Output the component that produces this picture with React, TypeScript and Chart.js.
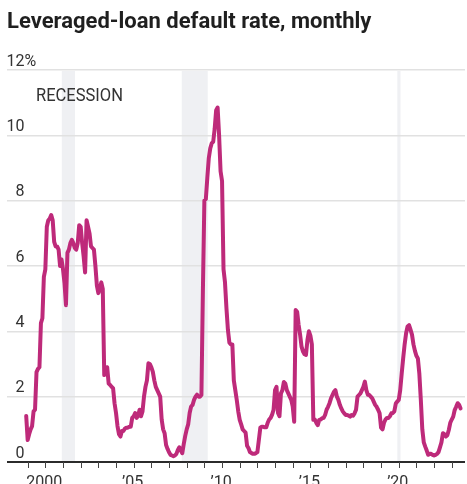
import React, { useEffect, useRef } from "react";
import { Chart, registerables } from "chart.js";

Chart.register(...registerables);

const TITLE = "Leveraged-loan default rate, monthly";
const RECESSION_LABEL = "RECESSION";

// first observation: December 1998, monthly thereafter
const START_YEAR = 1998;
const START_MONTH = 12;

const rates = [
  1.41, 0.67, 0.85, 1.0, 1.1, 1.55, 1.6, 2.75, 2.85, 2.9,
  4.25, 4.4, 5.67, 5.9, 7.2, 7.4, 7.45, 7.56, 7.4, 6.74,
  6.6, 6.6, 6.5, 6.0, 6.2, 5.9, 5.48, 4.8, 6.4, 6.5,
  6.7, 6.8, 6.7, 6.55, 6.5, 6.7, 7.25, 7.2, 6.7, 6.3,
  5.8, 7.4, 7.2, 7.0, 6.6, 6.55, 6.5, 6.0, 5.4, 5.17,
  5.3, 5.5, 5.3, 2.66, 2.75, 2.9, 2.4, 2.36, 2.3, 2.26,
  1.8, 1.5, 1.1, 0.85, 0.78, 0.95, 0.95, 1.02, 1.05, 1.05,
  1.08, 1.08, 1.35, 1.4, 1.5, 1.35, 1.42, 1.6, 1.4, 1.55,
  2.0, 2.3, 2.5, 3.02, 3.0, 2.9, 2.76, 2.5, 2.3, 2.2,
  2.1, 2.0, 1.3, 1.0, 0.88, 0.52, 0.4, 0.3, 0.22, 0.2,
  0.18, 0.2, 0.25, 0.37, 0.45, 0.35, 0.27, 0.55, 0.8, 1.0,
  1.15, 1.5, 1.7, 1.75, 1.9, 2.0, 2.06, 2.0, 2.0, 2.05,
  5.26, 8.0, 8.05, 8.7, 9.3, 9.6, 9.76, 9.8, 10.2, 10.77,
  10.85, 10.0, 8.9, 8.6, 5.9, 5.5, 4.7, 4.04, 3.65, 3.6,
  3.6, 2.5, 2.2, 1.9, 1.55, 1.29, 1.15, 1.0, 0.95, 0.9,
  0.5, 0.42, 0.3, 0.27, 0.25, 0.25, 0.27, 0.3, 0.67, 1.05,
  1.08, 1.08, 1.06, 1.06, 1.2, 1.3, 1.35, 1.45, 1.6, 2.2,
  2.3, 1.5, 1.4, 2.1, 2.2, 2.45, 2.4, 2.2, 2.1, 2.0,
  1.9, 1.7, 1.23, 4.65, 4.6, 4.2, 3.9, 3.53, 3.38, 3.3,
  3.28, 3.73, 4.0, 3.87, 3.6, 1.29, 1.3, 1.2, 1.13, 1.29,
  1.3, 1.34, 1.35, 1.44, 1.6, 1.69, 1.8, 1.95, 2.05, 2.15,
  2.2, 2.0, 1.9, 1.75, 1.64, 1.55, 1.49, 1.44, 1.44, 1.42,
  1.39, 1.44, 1.42, 1.49, 1.6, 2.0, 2.05, 2.1, 2.2, 2.3,
  2.46, 2.2, 2.06, 2.05, 2.0, 1.95, 1.85, 1.75, 1.69, 1.6,
  1.49, 1.05, 1.0, 1.2, 1.3, 1.35, 1.35, 1.4, 1.49, 1.5,
  1.55, 1.79, 1.85, 1.9, 2.2, 2.7, 3.17, 3.6, 3.94, 4.15,
  4.19, 4.05, 3.9, 3.6, 3.4, 3.25, 3.17, 2.7, 1.9, 1.0,
  0.6, 0.47, 0.35, 0.22, 0.25, 0.25, 0.22, 0.2, 0.22, 0.25,
  0.3, 0.45, 0.6, 0.88, 0.85, 0.78, 0.82, 0.98, 1.2, 1.3,
  1.39, 1.59, 1.69, 1.8, 1.75, 1.64,
];

const yTicks = [0, 2, 4, 6, 8, 10, 12];
const xTickYears = [
  1999, 2000, 2001, 2002, 2003, 2004, 2005, 2006, 2007, 2008, 2009, 2010,
  2011, 2012, 2013, 2014, 2015, 2016, 2017, 2018, 2019, 2020, 2021, 2022, 2023,
];
const xLabelYears = [2000, 2005, 2010, 2015, 2020];
const xLabelTexts = ["2000", "\u201905", "\u201910", "\u201915", "\u201920"];
const recessionStarts = [2000.93, 2007.72, 2019.92];
const recessionEnds = [2001.68, 2009.19, 2020.1];

const X_MIN = 1997.83;
const X_MAX = 2023.75;

const LINE_COLOR = "#be2a7a";
const TEXT_COLOR = "#333333";
const FONT = "Roboto, 'Noto Sans', sans-serif";

const decorPlugin = {
  id: "decor",
  beforeDraw(chart: any) {
    const { ctx, chartArea, scales } = chart;
    ctx.save();
    ctx.fillStyle = "#ffffff";
    ctx.fillRect(0, 0, chart.width, chart.height);
    ctx.fillStyle = "#eff0f3";
    for (let k = 0; k < recessionStarts.length; k++) {
      const x0 = scales.x.getPixelForValue(recessionStarts[k]);
      const x1 = scales.x.getPixelForValue(recessionEnds[k]);
      ctx.fillRect(x0, chartArea.top + 1, x1 - x0, chartArea.bottom - chartArea.top);
    }
    ctx.restore();
  },
  beforeDatasetsDraw(chart: any) {
    const { ctx, chartArea, scales } = chart;
    ctx.save();
    const y0 = scales.y.getPixelForValue(0);
    ctx.strokeStyle = "#2b2b2b";
    ctx.lineWidth = 2;
    ctx.beginPath();
    ctx.moveTo(chartArea.left, y0);
    ctx.lineTo(chartArea.right, y0);
    ctx.stroke();
    ctx.lineWidth = 1;
    ctx.strokeStyle = "#444";
    for (const yr of xTickYears) {
      const x = Math.round(scales.x.getPixelForValue(yr)) + 0.5;
      ctx.beginPath();
      ctx.moveTo(x, y0);
      ctx.lineTo(x, y0 + 6);
      ctx.stroke();
    }
    ctx.restore();
  },
  afterDraw(chart: any) {
    const { ctx, scales } = chart;
    ctx.save();
    ctx.fillStyle = "#1f1f1f";
    let size = 19;
    ctx.font = `bold ${size}px ${FONT}`;
    const w = ctx.measureText(TITLE).width;
    size = Math.max(16, Math.min(22, (size * 369) / w));
    ctx.font = `bold ${size}px ${FONT}`;
    ctx.textAlign = "left";
    ctx.textBaseline = "alphabetic";
    ctx.fillText(TITLE, 7, 28);

    ctx.fillStyle = TEXT_COLOR;
    ctx.font = `16px ${FONT}`;
    for (const v of yTicks) {
      const y = scales.y.getPixelForValue(v) - 4.5;
      ctx.textAlign = "right";
      ctx.fillText(String(v), 24.5, y);
      if (v === 12) {
        ctx.textAlign = "left";
        ctx.fillText("%", 24.5, y);
      }
    }

    ctx.textAlign = "center";
    for (let k = 0; k < xLabelYears.length; k++) {
      const x = scales.x.getPixelForValue(xLabelYears[k]);
      ctx.fillText(xLabelTexts[k], x - 1, 487);
    }

    ctx.textAlign = "left";
    ctx.font = `18px ${FONT}`;
    ctx.fillText(RECESSION_LABEL, 36, 101, 87);
    ctx.restore();
  },
};

export default function App() {
  const ref = useRef<HTMLCanvasElement | null>(null);

  useEffect(() => {
    document.body.style.margin = "0";
    const canvas = ref.current;
    if (!canvas) return;
    const data = rates.map((v, i) => ({
      x: START_YEAR + (START_MONTH - 1 + i) / 12,
      y: v,
    }));
    const chart = new Chart(canvas, {
      type: "line",
      data: {
        datasets: [
          {
            data,
            borderColor: LINE_COLOR,
            borderWidth: 4,
            pointRadius: 0,
            tension: 0,
            borderJoinStyle: "round",
            borderCapStyle: "round",
            fill: false,
          },
        ],
      },
      options: {
        animation: false,
        responsive: false,
        devicePixelRatio: 1,
        layout: { padding: { left: 7, right: 2, top: 70, bottom: 22 } },
        plugins: { legend: { display: false }, tooltip: { enabled: false } },
        scales: {
          x: { type: "linear", min: X_MIN, max: X_MAX, display: false },
          y: {
            min: 0,
            max: 12,
            ticks: { display: false, stepSize: 2 },
            border: { display: false },
            grid: {
              drawTicks: false,
              color: "#e1e1e1",
              lineWidth: (c: any) => (c.tick && c.tick.value === 0 ? 0 : 1.6),
            },
          },
        },
      },
      plugins: [decorPlugin],
    });
    return () => chart.destroy();
  }, []);

  return (
    <div style={{ width: 467, height: 484 }}>
      <canvas ref={ref} width={467} height={484} style={{ display: "block" }} />
    </div>
  );
}
